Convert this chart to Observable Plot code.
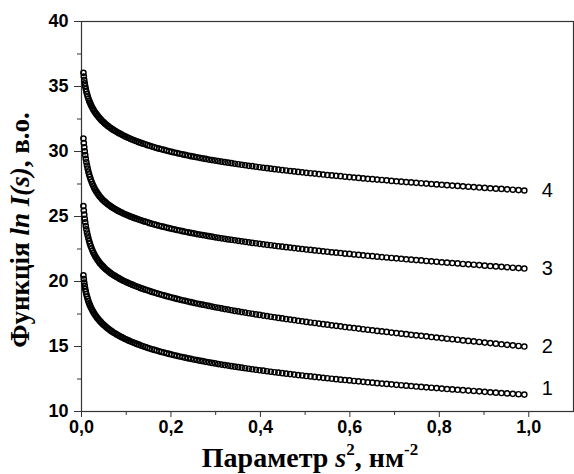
<!DOCTYPE html>
<html>
<head>
<meta charset="utf-8">
<script src="https://cdn.jsdelivr.net/npm/d3@7"></script>
<script src="https://cdn.jsdelivr.net/npm/@observablehq/plot@0.6"></script>
<style>
  html, body { margin: 0; padding: 0; background: #fff; }
</style>
</head>
<body>
<div id="chart"></div>
<script>
// Scattering parameter s^2 (nm^-2) of each measured point
const s2 = [
  0.00429,0.00518,0.00616,0.00723,0.00837,0.00960,0.01092,0.01232,0.01381,0.01538,
  0.01703,0.01877,0.02059,0.02250,0.02449,0.02657,0.02873,0.03098,0.03331,0.03572,
  0.03822,0.04080,0.04347,0.04623,0.04906,0.05198,0.05499,0.05808,0.06126,0.06452,
  0.06786,0.07129,0.07480,0.07840,0.08208,0.08585,0.08970,0.09364,0.09766,0.10176,
  0.10595,0.11022,0.11458,0.11903,0.12355,0.12816,0.13286,0.13764,0.14251,0.14746,
  0.15249,0.15761,0.16281,0.16810,0.17347,0.17893,0.18447,0.19010,0.19581,0.20160,
  0.20748,0.21344,0.21949,0.22563,0.23184,0.23814,0.24453,0.25100,0.25756,0.26420,
  0.27092,0.27773,0.28462,0.29160,0.29866,0.30581,0.31304,0.32036,0.32776,0.33524,
  0.34281,0.35046,0.35820,0.36603,0.37393,0.38192,0.39000,0.39816,0.40641,0.41474,
  0.42315,0.43165,0.44023,0.44890,0.45765,0.46649,0.47541,0.48442,0.49351,0.50268,
  0.51194,0.52128,0.53071,0.54023,0.54982,0.55950,0.56927,0.57912,0.58906,0.59908,
  0.60918,0.61937,0.62964,0.64000,0.65044,0.66097,0.67158,0.68228,0.69306,0.70392,
  0.71487,0.72590,0.73702,0.74823,0.75951,0.77088,0.78234,0.79388,0.80551,0.81722,
  0.82901,0.84089,0.85285,0.86490,0.87703,0.88925,0.90155,0.91394,0.92641,0.93896,
  0.95160,0.96432,0.97713,0.99003
];

// ln I(s), arbitrary units, for the four samples
const curve1 = [
  20.47,20.18,19.91,19.66,19.43,19.22,19.02,18.84,18.66,18.49,
  18.33,18.18,18.04,17.90,17.77,17.64,17.52,17.40,17.29,17.18,
  17.07,16.97,16.87,16.77,16.68,16.59,16.50,16.41,16.33,16.24,
  16.16,16.08,16.01,15.93,15.86,15.79,15.72,15.65,15.58,15.51,
  15.45,15.38,15.32,15.26,15.20,15.14,15.08,15.02,14.96,14.90,
  14.85,14.79,14.74,14.69,14.63,14.58,14.53,14.48,14.43,14.38,
  14.33,14.28,14.23,14.19,14.14,14.09,14.05,14.00,13.96,13.91,
  13.87,13.82,13.78,13.74,13.70,13.65,13.61,13.57,13.53,13.49,
  13.45,13.41,13.37,13.33,13.29,13.25,13.21,13.17,13.14,13.10,
  13.06,13.02,12.99,12.95,12.91,12.88,12.84,12.80,12.77,12.73,
  12.70,12.66,12.63,12.59,12.56,12.52,12.49,12.45,12.42,12.39,
  12.35,12.32,12.28,12.25,12.22,12.18,12.15,12.12,12.09,12.05,
  12.02,11.99,11.96,11.92,11.89,11.86,11.83,11.80,11.76,11.73,
  11.70,11.67,11.64,11.61,11.58,11.55,11.51,11.48,11.45,11.42,
  11.39,11.36,11.33,11.30
];
const curve2 = [
  25.80,25.46,25.14,24.83,24.55,24.27,24.01,23.77,23.54,23.32,
  23.11,22.91,22.73,22.55,22.38,22.22,22.07,21.93,21.80,21.67,
  21.55,21.43,21.32,21.22,21.12,21.02,20.92,20.84,20.75,20.66,
  20.58,20.50,20.43,20.35,20.28,20.20,20.13,20.06,20.00,19.93,
  19.86,19.80,19.74,19.67,19.61,19.55,19.49,19.43,19.37,19.32,
  19.26,19.20,19.15,19.09,19.04,18.98,18.93,18.87,18.82,18.77,
  18.72,18.66,18.61,18.56,18.51,18.46,18.41,18.36,18.31,18.26,
  18.22,18.17,18.12,18.07,18.02,17.98,17.93,17.88,17.84,17.79,
  17.74,17.70,17.65,17.61,17.56,17.52,17.47,17.43,17.38,17.34,
  17.29,17.25,17.20,17.16,17.11,17.07,17.03,16.98,16.94,16.89,
  16.85,16.81,16.76,16.72,16.68,16.63,16.59,16.55,16.50,16.46,
  16.42,16.38,16.33,16.29,16.25,16.20,16.16,16.12,16.07,16.03,
  15.99,15.95,15.90,15.86,15.82,15.78,15.73,15.69,15.65,15.60,
  15.56,15.52,15.47,15.43,15.39,15.35,15.30,15.26,15.22,15.17,
  15.13,15.09,15.04,15.00
];
const curve3 = [
  31.00,30.65,30.32,30.01,29.72,29.44,29.17,28.92,28.68,28.45,
  28.24,28.04,27.85,27.67,27.50,27.34,27.18,27.04,26.91,26.78,
  26.66,26.54,26.44,26.33,26.23,26.14,26.05,25.96,25.88,25.80,
  25.72,25.65,25.57,25.50,25.43,25.36,25.30,25.23,25.17,25.11,
  25.05,24.99,24.93,24.87,24.82,24.76,24.71,24.65,24.60,24.55,
  24.49,24.44,24.39,24.34,24.29,24.24,24.20,24.15,24.10,24.05,
  24.01,23.96,23.92,23.87,23.83,23.78,23.74,23.70,23.65,23.61,
  23.57,23.53,23.49,23.45,23.40,23.36,23.32,23.28,23.24,23.21,
  23.17,23.13,23.09,23.05,23.01,22.97,22.94,22.90,22.86,22.82,
  22.79,22.75,22.71,22.68,22.64,22.61,22.57,22.53,22.50,22.46,
  22.43,22.39,22.36,22.32,22.29,22.25,22.22,22.19,22.15,22.12,
  22.08,22.05,22.01,21.98,21.95,21.91,21.88,21.85,21.81,21.78,
  21.75,21.71,21.68,21.65,21.62,21.58,21.55,21.52,21.48,21.45,
  21.42,21.39,21.35,21.32,21.29,21.26,21.22,21.19,21.16,21.13,
  21.10,21.06,21.03,21.00
];
const curve4 = [
  36.05,35.76,35.49,35.25,35.02,34.80,34.60,34.42,34.24,34.07,
  33.91,33.76,33.62,33.48,33.35,33.22,33.10,32.98,32.87,32.76,
  32.65,32.55,32.45,32.35,32.26,32.16,32.08,31.99,31.90,31.82,
  31.74,31.66,31.59,31.51,31.44,31.37,31.30,31.23,31.16,31.09,
  31.03,30.96,30.90,30.84,30.78,30.72,30.66,30.60,30.55,30.49,
  30.44,30.38,30.33,30.27,30.22,30.17,30.12,30.07,30.02,29.97,
  29.92,29.88,29.83,29.78,29.74,29.69,29.64,29.60,29.56,29.51,
  29.47,29.43,29.38,29.34,29.30,29.26,29.22,29.18,29.14,29.10,
  29.06,29.02,28.98,28.94,28.90,28.87,28.83,28.79,28.75,28.72,
  28.68,28.64,28.61,28.57,28.54,28.50,28.47,28.43,28.40,28.36,
  28.33,28.30,28.26,28.23,28.19,28.16,28.13,28.10,28.06,28.03,
  28.00,27.97,27.93,27.90,27.87,27.84,27.81,27.78,27.74,27.71,
  27.68,27.65,27.62,27.59,27.56,27.53,27.50,27.47,27.44,27.41,
  27.38,27.35,27.32,27.29,27.26,27.23,27.20,27.17,27.14,27.12,
  27.09,27.06,27.03,27.00
];

const curveLabels = ["1", "2", "3", "4"];
const xMajorTicks = [0, 0.2, 0.4, 0.6, 0.8, 1.0];
const xMinorTicks = [0.1, 0.3, 0.5, 0.7, 0.9];
const yMajorTicks = [10, 15, 20, 25, 30, 35, 40];
const yMinorTicks = [12.5, 17.5, 22.5, 27.5, 32.5, 37.5];

const curves = [curve1, curve2, curve3, curve4];
const points = curves.flatMap((values, c) =>
  values.map((y, i) => ({x: s2[i], y, curve: curveLabels[c]}))
);
// Each curve is named next to its last point
const ends = curves.map((values, c) => ({
  x: s2[values.length - 1],
  y: values[values.length - 1],
  curve: curveLabels[c]
}));

const comma = d => d.toFixed(1).replace(".", ",");
const serif = "'Liberation Serif', 'Times New Roman', serif";
const sans = "'Liberation Sans', Arial, sans-serif";

const chart = Plot.plot({
  width: 574,
  height: 474,
  marginLeft: 81,
  marginRight: 1,
  marginTop: 21,
  marginBottom: 63,
  style: {fontFamily: sans, fontSize: "18px", fontWeight: "bold", color: "#000", background: "#fff"},
  x: {domain: [0, 1.1], label: null},
  y: {domain: [10, 40], label: null},
  marks: [
    Plot.axisX(xMajorTicks, {tickSize: 6, tickPadding: 3, tickFormat: comma, label: null, stroke: "#333"}),
    Plot.axisX(xMinorTicks, {tickSize: 4, tickFormat: () => "", label: null, stroke: "#333"}),
    Plot.axisY(yMajorTicks, {tickSize: 7, tickPadding: 6, tickFormat: d => String(d), label: null, stroke: "#333"}),
    Plot.axisY(yMinorTicks, {tickSize: 4, tickFormat: () => "", label: null, stroke: "#333"}),
    Plot.frame({stroke: "#333", strokeWidth: 1.2}),
    Plot.dot(points, {x: "x", y: "y", r: 2.6, stroke: "#000", strokeWidth: 1.45, fill: "none"}),
    Plot.text(ends.filter(d => d.curve !== "1"), {
      x: "x", y: "y", text: "curve", dx: 23, textAnchor: "middle",
      fontSize: 20, fontWeight: "normal", fontFamily: sans, fill: "#000"
    }),
    Plot.text(ends.filter(d => d.curve === "1"), {
      x: "x", y: "y", text: "curve", dx: 23, dy: -6, textAnchor: "middle",
      fontSize: 20, fontWeight: "normal", fontFamily: sans, fill: "#000"
    })
  ]
});

document.getElementById("chart").appendChild(chart);

// Axis titles with italic symbols and superscripts
const svg = d3.select(chart);

const yTitle = svg.append("text")
  .attr("transform", "translate(29,230) rotate(-90)")
  .attr("text-anchor", "middle")
  .attr("font-family", serif)
  .attr("font-size", 27)
  .attr("font-weight", "bold")
  .attr("fill", "#000");
yTitle.append("tspan").text("Функція ");
yTitle.append("tspan").attr("font-style", "italic").text("ln I(s)");
yTitle.append("tspan").text(", в.о.");

const xTitle = svg.append("text")
  .attr("x", 310)
  .attr("y", 467)
  .attr("text-anchor", "middle")
  .attr("font-family", serif)
  .attr("font-size", 28)
  .attr("font-weight", "bold")
  .attr("fill", "#000");
xTitle.append("tspan").text("Параметр ");
xTitle.append("tspan").attr("font-style", "italic").text("s");
xTitle.append("tspan").attr("font-size", 17).attr("dy", -12).text("2");
xTitle.append("tspan").attr("dy", 12).text(", нм");
xTitle.append("tspan").attr("font-size", 17).attr("dy", -12).text("-2");
</script>
</body>
</html>
